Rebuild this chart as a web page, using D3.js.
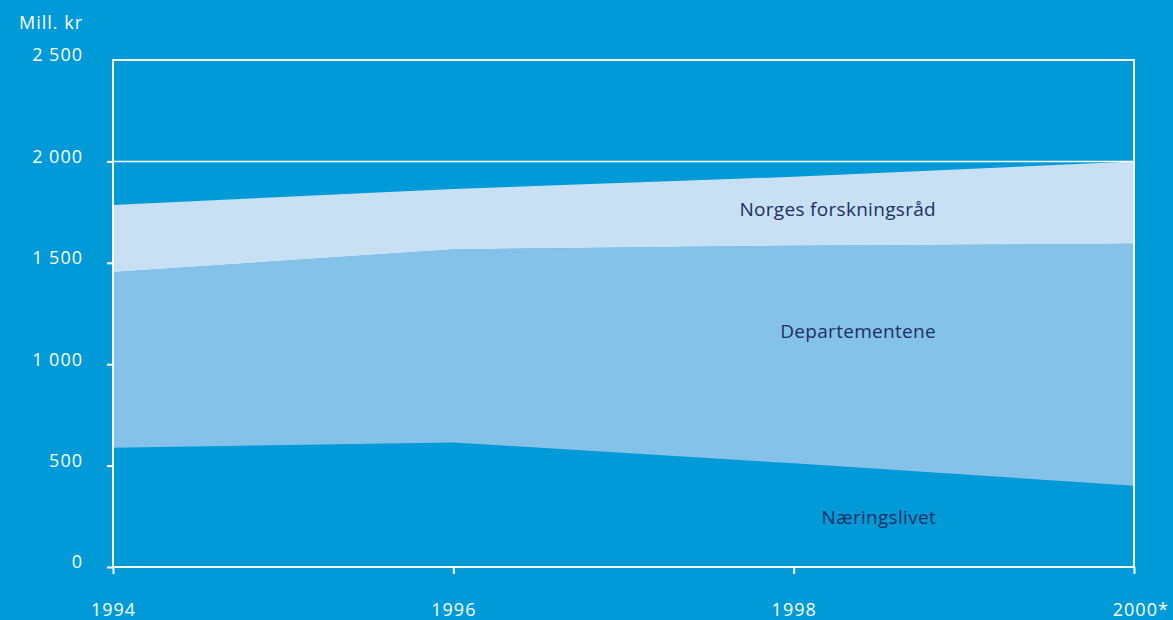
<!DOCTYPE html>
<html lang="no">
<head>
  <meta charset="UTF-8">
  <title>Mill. kr</title>
  <script src="https://cdnjs.cloudflare.com/ajax/libs/d3/7.8.5/d3.min.js"></script>
  <style>
    html, body { margin: 0; padding: 0; background: #009ad9; }
    svg { display: block; font-family: "Open Sans", sans-serif; }
    .tick-label { fill: #fff; font-size: 18px; letter-spacing: 1px; font-family: "Open Sans", sans-serif; }
    .area-label { fill: #1d2f63; font-size: 19px; letter-spacing: 0.3px; text-anchor: end; }
  </style>
</head>
<body>
  <svg width="1173" height="620"></svg>
  <script>
    // data
    var years = [1994, 1996, 1998, 2000]
    var naeringslivet = [588, 614, 511, 401]
    var departementene = [865, 952, 1073, 1193]
    var forskningsraad = [332, 298, 340, 406]
    var yTicks = [0, 500, 1000, 1500, 2000, 2500]
    var yTickLabels = ["0", "500", "1 000", "1 500", "2 000", "2 500"]
    var xTickLabels = ["1994", "1996", "1998", "2000*"]

    var seriesNames = ["Næringslivet", "Departementene", "Norges forskningsråd"]
    var colors = ["#009ad9", "#85c2e9", "#c8e0f4"]

    var table = years.map((yr, i) => ({
      year: yr,
      "Næringslivet": naeringslivet[i],
      "Departementene": departementene[i],
      "Norges forskningsråd": forskningsraad[i]
    }))

    var svg = d3.select("svg")
    var m = { left: 113, right: 1134, top: 60, bottom: 567 }

    var x = d3.scaleLinear().domain([1994, 2000]).range([m.left, m.right])
    var y = d3.scaleLinear().domain([0, 2500]).range([m.bottom, m.top])

    var layers = d3.stack().keys(seriesNames)(table)

    var area = d3.area()
      .x(d => x(d.data.year))
      .y0(d => y(d[0]))
      .y1(d => y(d[1]))

    svg.append("g").selectAll("path")
      .data(layers)
      .join("path")
      .attr("fill", (d, i) => colors[i])
      .attr("d", area)

    // gridline at 2000
    svg.append("line")
      .attr("x1", m.left).attr("x2", m.right)
      .attr("y1", y(2000)).attr("y2", y(2000))
      .attr("stroke", "#fff").attr("stroke-width", 1.5)

    // frame
    svg.append("rect")
      .attr("x", m.left).attr("y", m.top)
      .attr("width", m.right - m.left).attr("height", m.bottom - m.top)
      .attr("fill", "none").attr("stroke", "#fff").attr("stroke-width", 2)

    // y axis
    var yAxis = d3.axisLeft(y)
      .tickValues(yTicks)
      .tickSize(6)
      .tickPadding(24)
      .tickFormat((d, i) => yTickLabels[i])
    var gy = svg.append("g").attr("transform", `translate(${m.left},0)`).call(yAxis)
    gy.select(".domain").remove()
    gy.selectAll(".tick line").attr("stroke", "#fff").attr("stroke-width", 2)
      .filter(d => d === 2500).remove()
    gy.selectAll(".tick text")
      .attr("class", "tick-label")
      .attr("dy", "0.05em")

    // x axis
    var xAxis = d3.axisBottom(x)
      .tickValues(years)
      .tickSize(7)
      .tickPadding(29)
      .tickFormat((d, i) => xTickLabels[i])
    var gx = svg.append("g").attr("transform", `translate(0,${m.bottom})`).call(xAxis)
    gx.select(".domain").remove()
    gx.selectAll(".tick line").attr("stroke", "#fff").attr("stroke-width", 2)
    gx.selectAll(".tick text")
      .attr("class", "tick-label")
      .attr("dx", (d, i) => i === years.length - 1 ? "0.35em" : 0)

    svg.append("text")
      .attr("class", "tick-label")
      .attr("x", 19).attr("y", 29)
      .text("Mill. kr")

    // area labels, right-aligned inside the plot
    svg.append("g").selectAll("text")
      .data(seriesNames)
      .join("text")
      .attr("class", "area-label")
      .attr("x", m.right - 198)
      .attr("y", (d, i) => [524, 338, 216][i])
      .text(d => d)
  </script>
</body>
</html>
